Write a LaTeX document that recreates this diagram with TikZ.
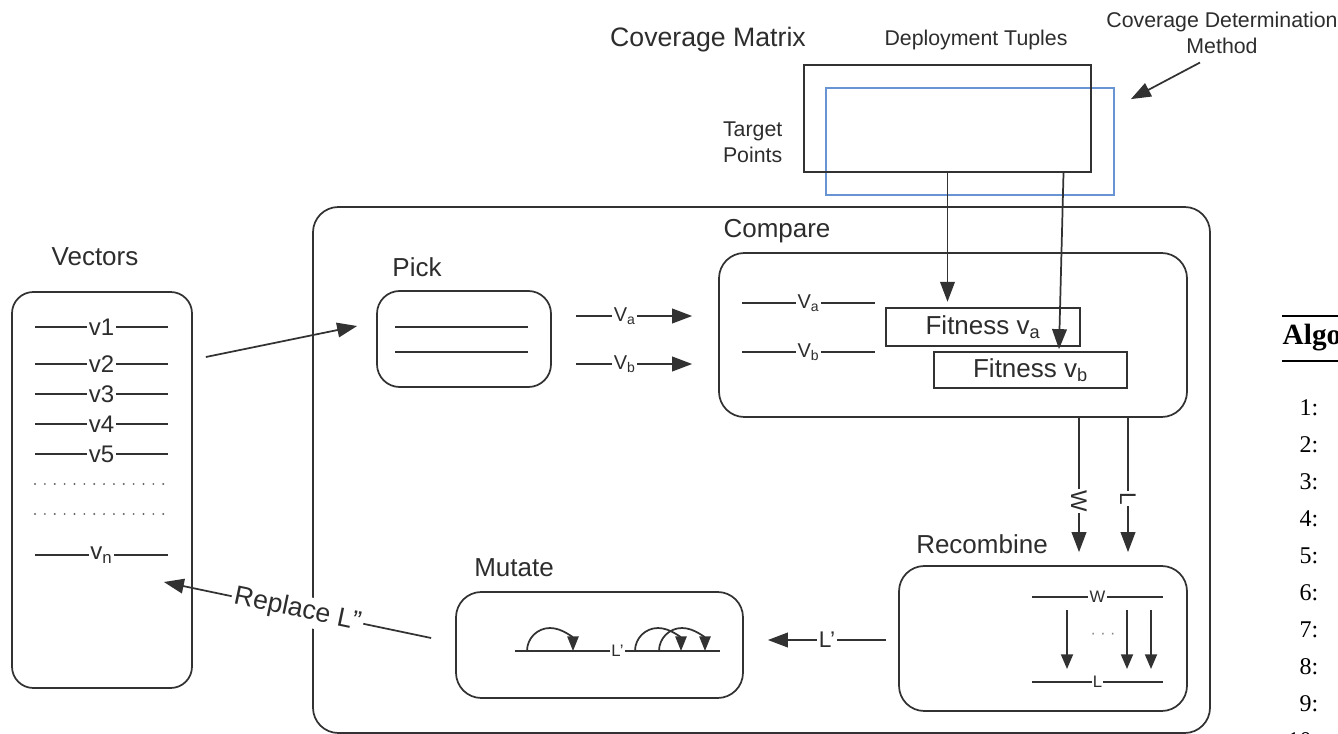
\documentclass[tikz,border=0pt]{standalone}
\usepackage{fontspec}
\setmainfont{Liberation Sans}
\newfontfamily\seriffont{Liberation Serif}
\usetikzlibrary{arrows.meta, positioning, calc}
\definecolor{linegray}{RGB}{50,50,50}
\definecolor{textgray}{RGB}{45,45,45}
\definecolor{methodblue}{RGB}{105,148,212}

\begin{document}
\begin{tikzpicture}[
    x=0.75pt, y=-0.75pt,
    stage/.style={draw=linegray, line width=1.3pt, rounded corners=17pt, inner sep=0pt},
    plain/.style={draw=linegray, line width=1.3pt, inner sep=0pt},
    head/.style={text=textgray, font=\fontsize{19.5}{23}\selectfont},
    note/.style={text=textgray, font=\fontsize{16}{19.5}\selectfont},
    tag/.style={text=textgray, fill=white, inner sep=1pt, font=\fontsize{15}{18}\selectfont},
    veclabel/.style={tag, font=\fontsize{18}{20}\selectfont},
    smalltag/.style={tag, font=\fontsize{12.5}{14}\selectfont},
    vec/.style={draw=linegray, line width=1.3pt},
    flow/.style={-{Triangle[length=15pt, width=11pt]}, line width=1.3pt, draw=linegray},
    smallflow/.style={-{Triangle[length=11pt, width=9pt]}, line width=1.3pt, draw=linegray},
    turn/.style={-{Triangle[length=11pt, width=8.5pt]}, line width=1.3pt, draw=linegray}
]
\useasboundingbox (0,0) rectangle (1338,734);

% outer loop frame
\node[stage, rounded corners=19pt, minimum width=672.75pt, minimum height=394.5pt] (loop) at (761.5,470) {};

% coverage matrix with the determination method laid over it
\node[plain, draw=methodblue, minimum width=216pt, minimum height=80.25pt] (method) at (970,141.5) {};
\node[plain, minimum width=215.25pt, minimum height=80.25pt] (matrix) at (947.5,118.5) {};
\node[head, font=\fontsize{20}{24}\selectfont] (matrixlabel) at (708,40) {Coverage Matrix};
\node[note] (tuples) at (976,40) {Deployment Tuples};
\node[note, align=center] (methodlabel) at (1222,33) {Coverage Determination\\Method};
\node[note, align=right, anchor=east] (targets) at (787,142) {Target\\Points};
\draw[flow] ($(methodlabel.south)+(-22,4)$) -- ($(method.north east)+(16,12)$);

% population of vectors
\node[stage, rounded corners=16pt, minimum width=135pt, minimum height=297pt] (vectors) at (102,490) {};
\node[head] (vectorslabel) at (95,257) {Vectors};
\foreach \y/\t [count=\i] in {327/v1, 364/v2, 394/v3, 424/v4, 454/v5, 555/v\textsubscript{n}}
    \draw[vec] (35,\y) -- node[veclabel] (v\i) {\t} (168,\y);
\foreach \y in {484,514}
    \draw[linegray!75, line width=1.6pt, line cap=round, dash pattern=on 0pt off 7.4pt] (35,\y) -- (168,\y);

% pick
\node[stage, minimum width=130.5pt, minimum height=72pt] (pick) at (464,339) {};
\node[head] (picklabel) at (417,267) {Pick};
\draw[vec] (395,327) -- (528,327);
\draw[vec] (395,352) -- (528,352);

% compare
\node[stage, rounded corners=19pt, minimum width=351pt, minimum height=123pt] (compare) at (953,335) {};
\node[head] (comparelabel) at (777,231) {Compare};
\draw[vec] (742,303) -- node[tag] (cva) {V\textsubscript{a}} (875,303);
\draw[vec] (742,352) -- node[tag] (cvb) {V\textsubscript{b}} (875,352);
\node[plain, fill=white, head, minimum width=145.5pt, minimum height=28.5pt] (fita) at (983,327) {Fitness v\textsubscript{a}};
\node[plain, fill=white, head, minimum width=144.75pt, minimum height=27pt] (fitb) at (1030.5,370) {Fitness v\textsubscript{b}};

% recombine
\node[stage, rounded corners=19pt, minimum width=216pt, minimum height=108.75pt] (recombine) at (1043,638.5) {};
\node[head] (recombinelabel) at (982,544) {Recombine};
\draw[vec] (1032,597) -- node[smalltag] (rw) {W} (1163,597);
\draw[vec] (1032,682) -- node[smalltag] (rl) {L} (1163,682);
\foreach \x in {1067,1127,1151}
    \draw[smallflow] (\x,610) -- (\x,669);
\node[text=linegray!60, font=\fontsize{12}{14}\selectfont] (rdots) at (1103,636) {· · ·};

% mutate
\node[stage, rounded corners=19pt, minimum width=215.25pt, minimum height=79.5pt] (mutate) at (599.5,645) {};
\node[head] (mutatelabel) at (514,568) {Mutate};
\draw[vec] (515,651) -- node[smalltag] (ml) {L'} (720,651);
\foreach \x in {527,635,659}
    \draw[turn] (\x,651) arc[start angle=180, delta angle=-180, radius=17.25pt];

% flow between the stages
\draw[flow] ($(vectors.east)+(13,-133)$) -- ($(pick.west)+(-19,-13)$);
\draw[flow] ($(pick.east)+(24,-23)$) -- node[tag, pos=0.42] (pva) {V\textsubscript{a}} ($(compare.west)+(-26,-19)$);
\draw[flow] ($(pick.east)+(24,25)$) -- node[tag, pos=0.42] (pvb) {V\textsubscript{b}} ($(compare.west)+(-26,29)$);
\draw[flow, shorten >=4pt] (matrix.south) -- (matrix.south |- fita.north);
\draw[flow] ($(matrix.south)+(116,0)$) -- ($(fitb.north)+(28.5,-2)$);
\draw[flow] ($(compare.south)+(126,0)$) -- node[tag, rotate=-90, pos=0.62, font=\fontsize{17}{19}\selectfont] (win) {W} ($(recombine.north)+(36,-13)$);
\draw[flow] ($(compare.south)+(175,0)$) -- node[tag, rotate=-90, pos=0.6, font=\fontsize{17}{19}\selectfont] (lose) {L} ($(recombine.north)+(85,-13)$);
\draw[flow] ($(recombine.west)+(-12,1.5)$) -- node[tag, font=\fontsize{17}{19}\selectfont] (lprime) {L'} ($(mutate.east)+(24,-5)$);
\draw[flow] ($(mutate.west)+(-24,-7)$) -- node[tag, sloped, inner sep=2pt, font=\fontsize{20}{22}\selectfont] (replace) {Replace L''} ($(vectors.east)+(-29,92)$);

% algorithm listing beside the diagram
\draw[line width=1.5pt] (1282,316) -- (1345,316);
\draw[line width=0.9pt] (1282,361) -- (1345,361);
\node[anchor=west, font=\seriffont\bfseries\fontsize{22}{26}\selectfont] (algo) at (1278,338) {Algo};
\foreach \n [count=\i from 0] in {1,...,10}
    \node[anchor=east, font=\seriffont\fontsize{18}{21}\selectfont] (step\n) at (1323,408+37*\i) {\n:};
\end{tikzpicture}
\end{document}
